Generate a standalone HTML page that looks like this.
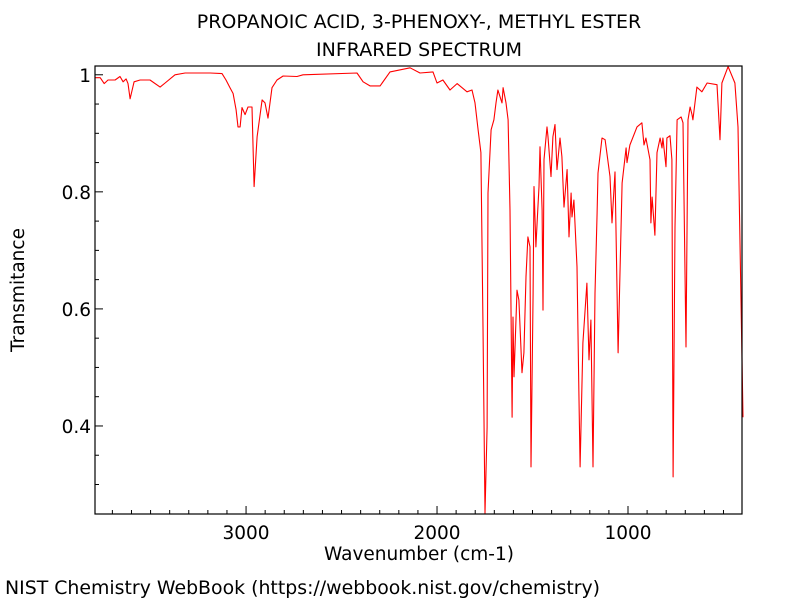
<!DOCTYPE html>
<html><head><meta charset="utf-8"><style>
body{margin:0;background:#fff;}
svg text{font-family:"DejaVu Sans","Liberation Sans",sans-serif;fill:#000;}
</style></head><body>
<svg id="chart" width="800" height="600" viewBox="0 0 800 600" xmlns="http://www.w3.org/2000/svg">
<rect width="800" height="600" fill="#fff"/>
<text x="419" y="28" font-size="19" text-anchor="middle">PROPANOIC ACID, 3-PHENOXY-, METHYL ESTER</text>
<text x="419" y="56" font-size="19" text-anchor="middle">INFRARED SPECTRUM</text>
<g id="ticks"></g>
<polyline id="spectrum" fill="none" stroke="#ff0000" stroke-width="1.1" stroke-linejoin="round"/>
<rect x="95" y="66" width="647" height="448" fill="none" stroke="#000" stroke-width="1.2"/>
<text x="419" y="560" font-size="18.5" text-anchor="middle">Wavenumber (cm-1)</text>
<text x="24" y="290" font-size="18.5" text-anchor="middle" transform="rotate(-90 24 290)">Transmitance</text>
<text x="5" y="594" font-size="18.9">NIST Chemistry WebBook (https://webbook.nist.gov/chemistry)</text>
</svg>
<script>
const wavenumbers=[3791,3764,3743,3723,3686,3660,3644,3628,3618,3607,3586,3555,3503,3450,3424,3372,3319,3188,3126,3105,3084,3068,3052,3042,3031,3021,3005,2990,2969,2958,2942,2916,2901,2885,2864,2838,2806,2733,2702,2419,2387,2351,2298,2246,2141,2089,2021,2000,1969,1932,1895,1843,1817,1801,1785,1770,1759,1749,1738,1733,1717,1702,1691,1681,1660,1654,1639,1628,1618,1607,1602,1597,1581,1571,1555,1545,1534,1524,1513,1508,1497,1492,1482,1476,1466,1461,1450,1445,1440,1424,1419,1403,1393,1382,1372,1356,1346,1335,1319,1309,1298,1293,1283,1267,1257,1251,1236,1215,1204,1194,1183,1173,1162,1157,1136,1120,1094,1084,1068,1052,1031,1010,1005,990,953,927,916,906,885,880,874,859,848,832,822,817,801,796,780,770,764,754,743,722,712,696,686,675,665,660,639,613,586,534,518,508,476,440,424,398];
const transmittance=[0.995,0.995,0.985,0.991,0.991,0.997,0.988,0.993,0.985,0.959,0.988,0.991,0.991,0.979,0.986,1.0,1.003,1.003,1.002,0.991,0.978,0.968,0.940,0.911,0.911,0.944,0.932,0.945,0.945,0.809,0.894,0.957,0.952,0.926,0.978,0.991,0.998,0.997,1.0,1.003,0.988,0.981,0.981,1.005,1.012,1.003,1.005,0.986,0.991,0.974,0.985,0.971,0.974,0.952,0.906,0.867,0.569,0.251,0.398,0.798,0.906,0.923,0.952,0.974,0.952,0.978,0.952,0.923,0.769,0.415,0.586,0.484,0.632,0.615,0.491,0.525,0.655,0.723,0.706,0.330,0.627,0.809,0.706,0.747,0.809,0.877,0.769,0.598,0.855,0.911,0.894,0.826,0.894,0.915,0.838,0.892,0.860,0.774,0.838,0.723,0.798,0.757,0.786,0.672,0.456,0.330,0.542,0.644,0.513,0.581,0.330,0.627,0.764,0.832,0.892,0.889,0.826,0.747,0.834,0.525,0.815,0.875,0.850,0.880,0.911,0.918,0.880,0.892,0.855,0.747,0.791,0.726,0.867,0.892,0.875,0.892,0.843,0.892,0.896,0.855,0.313,0.740,0.923,0.928,0.918,0.535,0.923,0.945,0.932,0.923,0.979,0.971,0.986,0.983,0.889,0.986,1.014,0.986,0.911,0.415];
const xTickLabels=[3000,2000,1000];
const yTickLabels=[0.4,0.6,0.8,1];
const X0=95,X1=742,Y0=66,Y1=514;
const WN_LEFT=3791,WN_RIGHT=403,T_TOP=1.015,T_BOT=0.2496;
function xs(w){return X0+(WN_LEFT-w)/(WN_LEFT-WN_RIGHT)*(X1-X0);}
function ys(t){return Y0+(T_TOP-t)/(T_TOP-T_BOT)*(Y1-Y0);}
const NS="http://www.w3.org/2000/svg";
const line=document.getElementById('spectrum');
line.setAttribute('points',wavenumbers.map((w,i)=>xs(w).toFixed(1)+','+ys(transmittance[i]).toFixed(1)).join(' '));
const g=document.getElementById('ticks');
function mk(tag,attrs){const e=document.createElementNS(NS,tag);for(const k in attrs)e.setAttribute(k,attrs[k]);g.appendChild(e);return e;}
for(let w=500;w<=3700;w+=100){
  const x=xs(w);const major=w%1000===0;
  const t=mk('line',{x1:x,x2:x,y1:Y1,y2:Y1-(major?8:4),stroke:'#000','stroke-width':1});
  
  
}
xTickLabels.forEach(v=>{
  const t=mk('text',{x:xs(v),y:Y1+25,'font-size':18.5,'text-anchor':'middle'});t.textContent=String(v);
  
  
});
for(let k=6;k<=20;k++){
  const v=k*0.05;const y=ys(v);const major=k%4===0;
  const t=mk('line',{x1:X0,x2:X0+(major?8:4),y1:y,y2:y,stroke:'#000','stroke-width':1});
  
  
}
yTickLabels.forEach(v=>{
  const t=mk('text',{x:X0-4,y:ys(v)+7,'font-size':18.5,'text-anchor':'end'});t.textContent=String(v);
  
  
});
</script>
</body></html>
